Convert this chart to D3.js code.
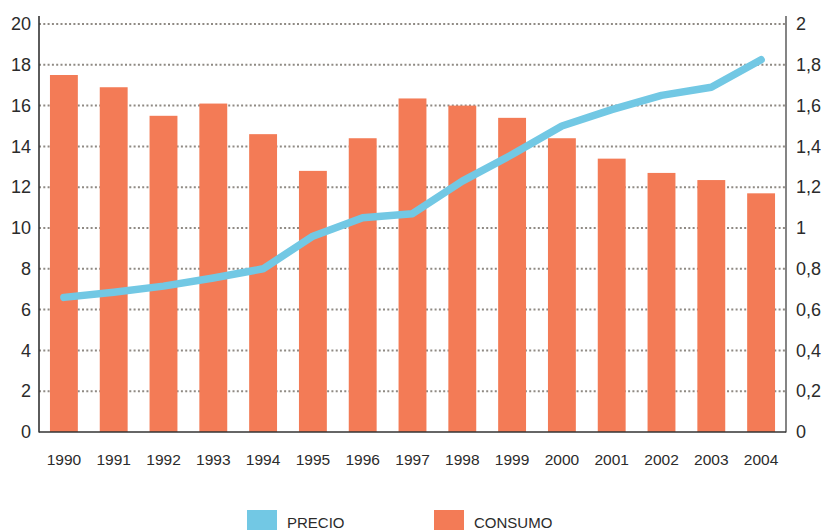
<!DOCTYPE html>
<html>
<head>
<meta charset="utf-8">
<script src="https://cdn.jsdelivr.net/npm/d3@7"></script>
<style>
  body { margin: 0; background: #fff; }
  text { font-family: "Liberation Sans", Arial, sans-serif; fill: #2b2b2b; }
</style>
</head>
<body>
<script>
// data
var years = ["1990","1991","1992","1993","1994","1995","1996","1997","1998","1999","2000","2001","2002","2003","2004"];
var consumo = [17.5, 16.9, 15.5, 16.1, 14.6, 12.8, 14.4, 16.35, 16.0, 15.4, 14.4, 13.4, 12.7, 12.35, 11.7];
var precio = [0.66, 0.685, 0.715, 0.755, 0.80, 0.96, 1.05, 1.07, 1.23, 1.36, 1.50, 1.58, 1.65, 1.69, 1.825];
var leftTicks = [0, 2, 4, 6, 8, 10, 12, 14, 16, 18, 20];
var rightTicks = [0, 0.2, 0.4, 0.6, 0.8, 1, 1.2, 1.4, 1.6, 1.8, 2];
var legendLabels = ["PRECIO", "CONSUMO"];

var width = 822, height = 530;
var plot = {left: 39, right: 786, top: 24, bottom: 432};

var svg = d3.select("body").append("svg")
    .attr("width", width)
    .attr("height", height);

// setup x
var x = d3.scaleBand()
    .domain(years)
    .range([plot.left, plot.right])
    .paddingInner(0.44)
    .paddingOuter(0.22);

// setup y (left = consumo, right = precio)
var yL = d3.scaleLinear().domain([0, 20]).range([plot.bottom, plot.top]);
var yR = d3.scaleLinear().domain([0, 2]).range([plot.bottom, plot.top]);

var barColor = "#f37b56",
    lineColor = "#72c8e4";

// dotted gridlines
svg.append("g").selectAll("line")
    .data(leftTicks.filter(function(d) { return d > 0; }))
  .enter().append("line")
    .attr("x1", plot.left)
    .attr("x2", plot.right)
    .attr("y1", function(d) { return yL(d); })
    .attr("y2", function(d) { return yL(d); })
    .attr("stroke", "#8f8a84")
    .attr("stroke-width", 2)
    .attr("stroke-dasharray", "2,2.3");

// bars
svg.append("g").selectAll("rect")
    .data(consumo)
  .enter().append("rect")
    .attr("x", function(d, i) { return x(years[i]); })
    .attr("width", x.bandwidth())
    .attr("y", function(d) { return yL(d); })
    .attr("height", function(d) { return yL(0) - yL(d); })
    .attr("fill", barColor);

// axes
var leftAxis = d3.axisLeft(yL).tickValues(leftTicks).tickSize(0).tickPadding(8);
var gl = svg.append("g")
    .attr("transform", "translate(" + plot.left + ",0)")
    .call(leftAxis);
gl.select(".domain").remove();
gl.selectAll("text").style("font-size", "18px").attr("fill", "#2b2b2b");

var rightAxis = d3.axisRight(yR).tickValues(rightTicks).tickSize(0).tickPadding(10)
    .tickFormat(function(d) { return String(d).replace(".", ","); });
var gr = svg.append("g")
    .attr("transform", "translate(" + plot.right + ",0)")
    .call(rightAxis);
gr.select(".domain").remove();
gr.selectAll("text").style("font-size", "18px").attr("fill", "#2b2b2b");

var bottomAxis = d3.axisBottom(x).tickSize(0).tickPadding(22);
var gb = svg.append("g")
    .attr("transform", "translate(0," + plot.bottom + ")")
    .call(bottomAxis);
gb.select(".domain").remove();
gb.selectAll("text").style("font-size", "15.5px").attr("fill", "#2b2b2b");

// frame lines
svg.append("line")
    .attr("x1", plot.left).attr("x2", plot.left)
    .attr("y1", 16).attr("y2", plot.bottom + 0.5)
    .attr("stroke", "#333").attr("stroke-width", 1.6);
svg.append("line")
    .attr("x1", plot.right).attr("x2", plot.right)
    .attr("y1", 16).attr("y2", plot.bottom + 0.5)
    .attr("stroke", "#666").attr("stroke-width", 1.6);
svg.append("line")
    .attr("x1", plot.left).attr("x2", plot.right)
    .attr("y1", plot.bottom).attr("y2", plot.bottom)
    .attr("stroke", "#333").attr("stroke-width", 1.6);

// precio line
var line = d3.line()
    .x(function(d, i) { return x(years[i]) + x.bandwidth() / 2; })
    .y(function(d) { return yR(d); });

svg.append("path")
    .datum(precio)
    .attr("d", line)
    .attr("fill", "none")
    .attr("stroke", lineColor)
    .attr("stroke-width", 7.5)
    .attr("stroke-linecap", "round")
    .attr("stroke-linejoin", "round");

// legend
var legendX = [247, 434];
var legendColors = [lineColor, barColor];
var lg = svg.append("g").selectAll("g")
    .data(legendLabels)
  .enter().append("g")
    .attr("transform", function(d, i) { return "translate(" + legendX[i] + ",510)"; });
lg.append("rect")
    .attr("width", 30)
    .attr("height", 20)
    .attr("fill", function(d, i) { return legendColors[i]; });
lg.append("text")
    .attr("x", 40)
    .attr("y", 17.5)
    .style("font-size", "15px")
    .text(function(d) { return d; });
</script>
</body>
</html>
